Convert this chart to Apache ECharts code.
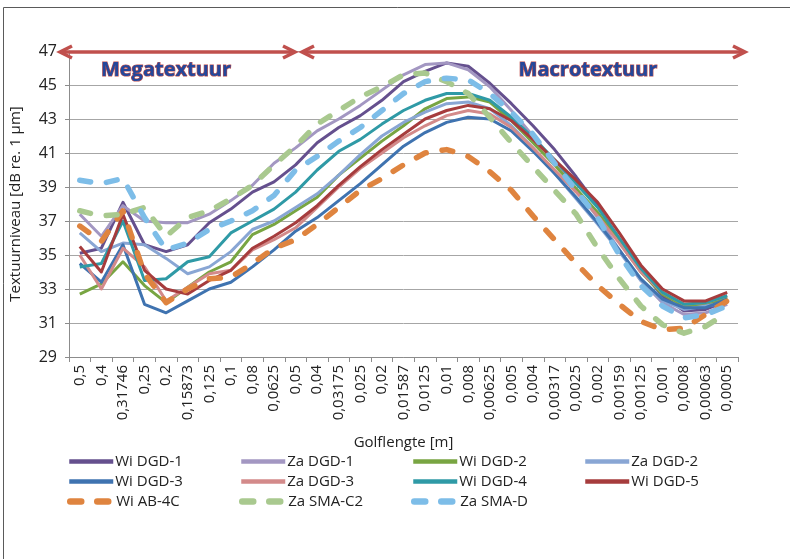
<!DOCTYPE html>
<html><head><meta charset="utf-8">
<script src="https://cdn.jsdelivr.net/npm/echarts@6/dist/echarts.min.js"></script>
<style>html,body{margin:0;padding:0;background:#fff}#c{width:790px;height:559px}</style>
</head><body><div id="c"></div>
<script>
const categories = ['0,5','0,4','0,31746','0,25','0,2','0,15873','0,125','0,1','0,08','0,0625','0,05','0,04','0,03175','0,025','0,02','0,01587','0,0125','0,01','0,008','0,00625','0,005','0,004','0,00317','0,0025','0,002','0,00159','0,00125','0,001','0,0008','0,00063','0,0005'];

const wiDGD1 = [35.1,35.4,38.1,35.6,35.2,35.6,36.9,37.7,38.7,39.3,40.3,41.6,42.5,43.2,44.1,45.2,45.8,46.3,46.1,45.1,43.9,42.6,41.2,39.6,37.9,35.9,34.1,32.6,31.7,31.8,32.3];
const zaDGD1 = [37.4,36.1,37.9,37.0,36.9,36.9,37.4,38.2,39.1,40.4,41.3,42.3,43.0,43.8,44.7,45.6,46.2,46.3,45.9,44.9,43.5,42.0,40.5,38.9,37.2,35.3,33.5,32.2,31.5,31.6,32.1];
const wiDGD2 = [32.7,33.3,34.6,33.2,32.2,33.1,34.0,34.6,36.2,36.8,37.6,38.4,39.7,40.7,41.7,42.6,43.6,44.2,44.3,44.0,42.9,41.6,40.3,38.9,37.5,35.8,34.0,32.7,32.0,32.1,32.5];
const zaDGD2 = [36.3,35.2,35.7,35.6,34.8,33.9,34.3,35.2,36.5,37.0,37.8,38.6,39.7,40.9,42.0,42.8,43.4,43.9,44.0,43.6,42.6,41.3,39.8,38.3,36.8,35.2,33.5,32.3,31.8,32.0,32.2];
const wiDGD3 = [34.5,33.4,35.6,32.1,31.6,32.3,33.0,33.4,34.3,35.3,36.4,37.2,38.2,39.2,40.3,41.4,42.2,42.8,43.1,43.0,42.3,41.1,39.8,38.4,36.9,35.3,33.6,32.4,31.9,31.9,32.4];
const zaDGD3 = [35.0,33.0,35.4,34.3,32.3,33.1,33.9,34.1,35.3,35.9,36.6,37.8,39.0,40.1,41.0,41.9,42.6,43.2,43.5,43.3,42.5,41.3,40.0,38.7,37.3,35.7,34.0,32.8,32.1,32.2,32.6];
const wiDGD4 = [34.3,34.5,37.0,33.5,33.6,34.6,34.9,36.3,37.0,37.7,38.7,40.0,41.1,41.8,42.7,43.5,44.1,44.5,44.5,44.1,43.1,41.9,40.6,39.2,37.8,36.0,34.2,32.8,32.1,32.2,32.6];
const wiDGD5 = [35.5,34.0,37.4,34.1,33.0,32.7,33.5,34.1,35.4,36.1,36.9,37.9,39.1,40.2,41.2,42.1,43.0,43.5,43.8,43.6,42.9,41.8,40.6,39.4,38.1,36.3,34.4,33.0,32.3,32.3,32.8];
const wiAB4C = [36.7,35.8,37.6,33.9,32.2,33.0,33.6,33.7,34.5,35.4,35.9,36.8,37.8,38.8,39.5,40.3,41.0,41.2,40.8,39.9,38.8,37.3,35.9,34.5,33.2,32.1,31.1,30.6,30.7,31.5,32.3];
const zaSMAC2 = [37.6,37.3,37.4,37.8,36.1,37.2,37.6,38.3,39.1,40.3,41.4,42.7,43.5,44.3,44.9,45.6,45.7,45.2,44.5,43.1,41.6,40.2,38.8,37.4,35.4,33.6,32.0,30.9,30.4,30.8,31.6];
const zaSMAD = [39.4,39.2,39.5,37.2,35.3,35.7,36.5,37.0,37.6,38.5,40.0,40.8,41.7,42.5,43.5,44.5,45.2,45.4,45.3,44.5,43.4,42.1,40.4,38.8,37.2,35.0,33.2,32.0,31.3,31.5,32.0];

const seriesNames = ['Wi DGD-1','Za DGD-1','Wi DGD-2','Za DGD-2','Wi DGD-3','Za DGD-3','Wi DGD-4','Wi DGD-5','Wi AB-4C','Za SMA-C2','Za SMA-D'];
const seriesData = [wiDGD1,zaDGD1,wiDGD2,zaDGD2,wiDGD3,zaDGD3,wiDGD4,wiDGD5,wiAB4C,zaSMAC2,zaSMAD];
const seriesColors = ['#65508E','#A397C2','#78A542','#89A6D4','#3F73B0','#D38A8A','#2F9AA6','#A63C3D','#DF843F','#A9C98F','#7DBDE8'];
const dashed = [false,false,false,false,false,false,false,false,true,true,true];

const FONT = '"Open Sans", "Noto Sans", sans-serif';

const series = seriesNames.map((n, i) => ({
  name: n,
  type: 'line',
  data: seriesData[i],
  symbol: 'none',
  showSymbol: false,
  smooth: false,
  animation: false,
  lineStyle: dashed[i]
    ? { color: seriesColors[i], width: 5.5, type: [11, 16], cap: 'round', join: 'round' }
    : { color: seriesColors[i], width: 3, join: 'round' },
  itemStyle: { color: seriesColors[i] },
  emphasis: { disabled: true }
}));

const legendCols = [67, 239, 411, 583];
const legendRows = [454, 474, 494];
const legends = seriesNames.map((n, i) => ({
  data: [n],
  left: legendCols[i % 4],
  top: legendRows[Math.floor(i / 4)],
  padding: 0,
  itemWidth: 44,
  itemHeight: 14,
  selectedMode: false,
  textStyle: { fontFamily: FONT, fontSize: 15, color: '#222', padding: [0, 0, 0, -3] },
  itemStyle: { opacity: 0, borderWidth: 0 },
  lineStyle: dashed[i] ? { width: 6.5 } : { width: 4.5 }
}));

const red = '#C0504D';
function arrowHead(tipX, y, dir) {
  return { type: 'polyline', silent: true, z: 100,
    shape: { points: [[tipX + dir * 12, y - 6], [tipX, y], [tipX + dir * 12, y + 6]] },
    style: { stroke: red, lineWidth: 3.5, fill: null, lineCap: 'butt', lineJoin: 'miter' } };
}

const chart = echarts.init(document.getElementById('c'), null, { renderer: 'canvas' });
chart.setOption({
  backgroundColor: '#fff',
  animation: false,
  grid: { left: 66, right: 52, top: 51, bottom: 202, containLabel: false },
  legend: legends,
  xAxis: {
    type: 'category',
    data: categories,
    boundaryGap: true,
    axisLine: { lineStyle: { color: '#8C8C8C', width: 1 } },
    axisTick: { show: true, length: 5, interval: 0, lineStyle: { color: '#8C8C8C' } },
    axisLabel: { rotate: 90, interval: 0, fontFamily: FONT, fontSize: 15, color: '#222', margin: 8 },
    name: 'Golflengte [m]',
    nameLocation: 'middle',
    nameGap: 78,
    nameTextStyle: { fontFamily: FONT, fontSize: 15, color: '#222' },
    splitLine: { show: false }
  },
  yAxis: {
    type: 'value',
    min: 29, max: 47, interval: 2,
    axisLine: { show: true, lineStyle: { color: '#8C8C8C', width: 1 } },
    axisTick: { show: true, length: 4, lineStyle: { color: '#8C8C8C' } },
    axisLabel: { fontFamily: FONT, fontSize: 16, color: '#222', margin: 12 },
    splitLine: { show: true, lineStyle: { color: '#A6A6A6', width: 1 } },
    name: 'Textuurniveau [dB re. 1 µm]',
    nameLocation: 'middle',
    nameGap: 46,
    nameRotate: 90,
    nameTextStyle: { fontFamily: FONT, fontSize: 15, color: '#222' }
  },
  series: series,
  graphic: [
    { type: 'rect', silent: true, z: -10, shape: { x: 3.5, y: 7.5, width: 900, height: 700 },
      style: { fill: null, stroke: '#5A5A5A', lineWidth: 1 } },
    { type: 'line', silent: true, z: 100, shape: { x1: 61, y1: 52, x2: 294, y2: 52 },
      style: { stroke: red, lineWidth: 3.5 } },
    arrowHead(60, 52, 1), arrowHead(295, 52, -1),
    { type: 'line', silent: true, z: 100, shape: { x1: 303, y1: 52, x2: 744, y2: 52 },
      style: { stroke: red, lineWidth: 3.5 } },
    arrowHead(302, 52, 1), arrowHead(745, 52, -1),
    { type: 'text', silent: true, z: 100,
      style: { text: 'Megatextuur', x: 166, y: 70, align: 'center', verticalAlign: 'middle',
        font: 'bold 20px "Open Sans", sans-serif', fill: '#24479A', stroke: red, lineWidth: 1.2 } },
    { type: 'text', silent: true, z: 100,
      style: { text: 'Macrotextuur', x: 588, y: 70, align: 'center', verticalAlign: 'middle',
        font: 'bold 20px "Open Sans", sans-serif', fill: '#24479A', stroke: red, lineWidth: 1.2 } }
  ]
});
</script></body></html>
